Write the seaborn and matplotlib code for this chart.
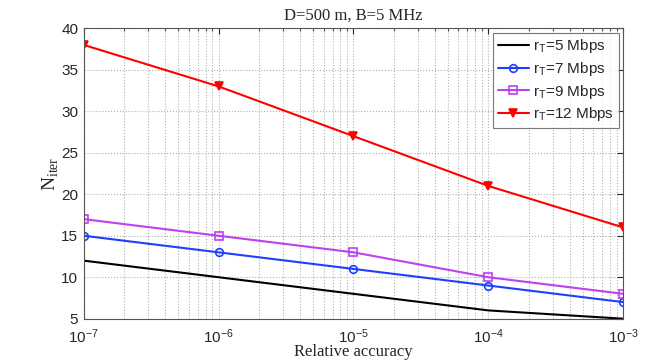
import numpy as np
import pandas as pd
import seaborn as sns
import matplotlib
matplotlib.use("Agg")
import matplotlib.pyplot as plt
from matplotlib.ticker import LogLocator, NullFormatter

# values
accuracy = [1e-7, 1e-6, 1e-5, 1e-4, 1e-3]
n_5 = [12, 10, 8, 6, 5]
n_7 = [15, 13, 11, 9, 7]
n_9 = [17, 15, 13, 10, 8]
n_12 = [38, 33, 27, 21, 16]
labels = ["r$_\\mathregular{T}$=5 Mbps", "r$_\\mathregular{T}$=7 Mbps",
          "r$_\\mathregular{T}$=9 Mbps", "r$_\\mathregular{T}$=12 Mbps"]

df = pd.DataFrame({"acc": accuracy * 4,
                   "n": n_5 + n_7 + n_9 + n_12,
                   "rate": np.repeat(labels, len(accuracy))})

sns.set_style("white")
plt.rcParams["font.family"] = ["Liberation Sans", "DejaVu Sans"]

fig = plt.figure(figsize=(6.54, 3.63), dpi=100)
ax = fig.add_axes([0.128, 0.122, 0.825, 0.8])

palette = {labels[0]: "black", labels[1]: "#1f3fff", labels[2]: "#bf40f0", labels[3]: "#ff0000"}
markers = {labels[0]: None, labels[1]: "o", labels[2]: "s", labels[3]: "v"}
for lab in labels:
    sub = df[df["rate"] == lab]
    sns.lineplot(data=sub, x="acc", y="n", ax=ax, color=palette[lab], label=lab,
                 marker=markers[lab], markersize=5.5,
                 markerfacecolor="none" if lab != labels[3] else palette[lab],
                 markeredgecolor=palette[lab], markeredgewidth=1.2, linewidth=1.5)

ax.set_xscale("log")
ax.set_xlim(1e-7, 1e-3)
ax.set_ylim(5, 40)
ax.set_yticks(range(5, 41, 5))
ax.xaxis.set_minor_locator(LogLocator(base=10, subs=np.arange(2, 10)))
ax.xaxis.set_minor_formatter(NullFormatter())
ax.grid(True, which="major", linestyle=":", color="#b0b0b0", linewidth=0.8)
ax.grid(True, which="minor", axis="x", linestyle=":", color="#b0b0b0", linewidth=0.8)
ax.tick_params(direction="in", top=True, right=True, which="both", labelsize=11)
ax.tick_params(which="major", length=4)
ax.tick_params(which="minor", length=2)
ax.tick_params(axis="y", pad=4)
ax.tick_params(axis="x", pad=6)
for s in ax.spines.values():
    s.set_color("#555555")
    s.set_linewidth(0.8)

ax.set_title("D=500 m, B=5 MHz", family="Liberation Serif", fontsize=12, pad=6)
ax.set_xlabel("Relative accuracy", family="Liberation Serif", fontsize=12, labelpad=-1)
ax.set_ylabel("N$_\\mathregular{iter}$", family="Liberation Serif", fontsize=14, labelpad=0)

leg = ax.legend(loc="upper right", fontsize=11, frameon=True, fancybox=False,
                edgecolor="#555555", handlelength=2.0, borderpad=0.3, labelspacing=0.3,
                handletextpad=0.3, borderaxespad=0.3)
leg.get_frame().set_linewidth(0.8)

fig.savefig("out.png", dpi=100)
